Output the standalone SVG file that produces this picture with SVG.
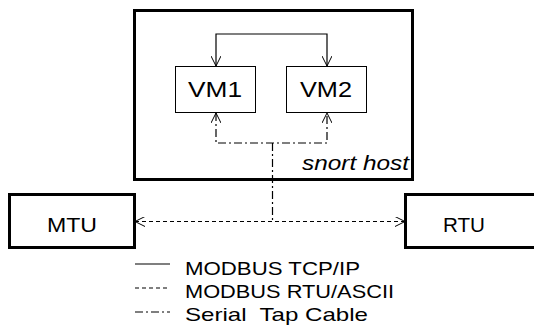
<svg xmlns="http://www.w3.org/2000/svg" width="534" height="327" viewBox="0 0 534 327">
<defs>
<marker id="ah" viewBox="0 0 10 10" refX="10" refY="5" markerWidth="10" markerHeight="10" markerUnits="userSpaceOnUse" orient="auto-start-reverse">
<path d="M0,0 L10,5 L0,10" fill="none" stroke="#000" stroke-width="1"/>
</marker>
</defs>
<style>
text{font-family:"Liberation Sans",Arial,sans-serif;fill:#000}
.box{fill:#fff;stroke:#000}
.solid{fill:none;stroke:#000;stroke-width:1.2}
.dash{fill:none;stroke:#000;stroke-width:1.2;stroke-dasharray:4 3}
.dd{fill:none;stroke:#000;stroke-width:1.2;stroke-dasharray:8 3 2 3}
</style>
<rect width="534" height="327" fill="#fff"/>
<g id="host">
<rect class="box" x="134.5" y="10.5" width="278" height="169" stroke-width="3"/>
<text x="302" y="170" font-size="21" font-style="italic" textLength="107" lengthAdjust="spacingAndGlyphs">snort host</text>
</g>
<g id="vm1">
<rect class="box" x="175.5" y="66.5" width="80" height="46" stroke-width="1"/>
<text x="188" y="97" font-size="21.5" textLength="54" lengthAdjust="spacingAndGlyphs">VM1</text>
</g>
<g id="vm2">
<rect class="box" x="286.5" y="66.5" width="80" height="46" stroke-width="1"/>
<text x="300" y="97" font-size="21.5" textLength="52" lengthAdjust="spacingAndGlyphs">VM2</text>
</g>
<g id="mtu">
<rect class="box" x="9.5" y="194.5" width="125" height="53" stroke-width="3"/>
<text x="47" y="232" font-size="20" textLength="50" lengthAdjust="spacingAndGlyphs">MTU</text>
</g>
<g id="rtu">
<rect class="box" x="405.5" y="194.5" width="135" height="53" stroke-width="3"/>
<text x="443" y="232" font-size="20" textLength="42" lengthAdjust="spacingAndGlyphs">RTU</text>
</g>
<g id="connectors">
<path class="solid" d="M216,66 V34 H327 V66" marker-start="url(#ah)" marker-end="url(#ah)"/>
<path class="dd" d="M216,113 V143 H327 V113" marker-start="url(#ah)" marker-end="url(#ah)"/>
<path class="dd" d="M272.5,143 V221"/>
<path class="dash" d="M135,221.5 H405" marker-start="url(#ah)" marker-end="url(#ah)"/>
</g>
<g id="legend">
<line class="solid" x1="135" y1="264" x2="170" y2="264" stroke-width="1.5"/>
<line class="dash" x1="135" y1="288" x2="170" y2="288" stroke-dasharray="5 5"/>
<line class="dd" x1="135" y1="312" x2="170" y2="312" stroke-dasharray="11 3 2 3"/>
<text x="185" y="275" font-size="19" textLength="175" lengthAdjust="spacingAndGlyphs">MODBUS TCP/IP</text>
<text x="185" y="298" font-size="19" textLength="209" lengthAdjust="spacingAndGlyphs">MODBUS RTU/ASCII</text>
<text x="185" y="321" font-size="19" textLength="183" lengthAdjust="spacingAndGlyphs" xml:space="preserve">Serial  Tap Cable</text>
</g>
</svg>
